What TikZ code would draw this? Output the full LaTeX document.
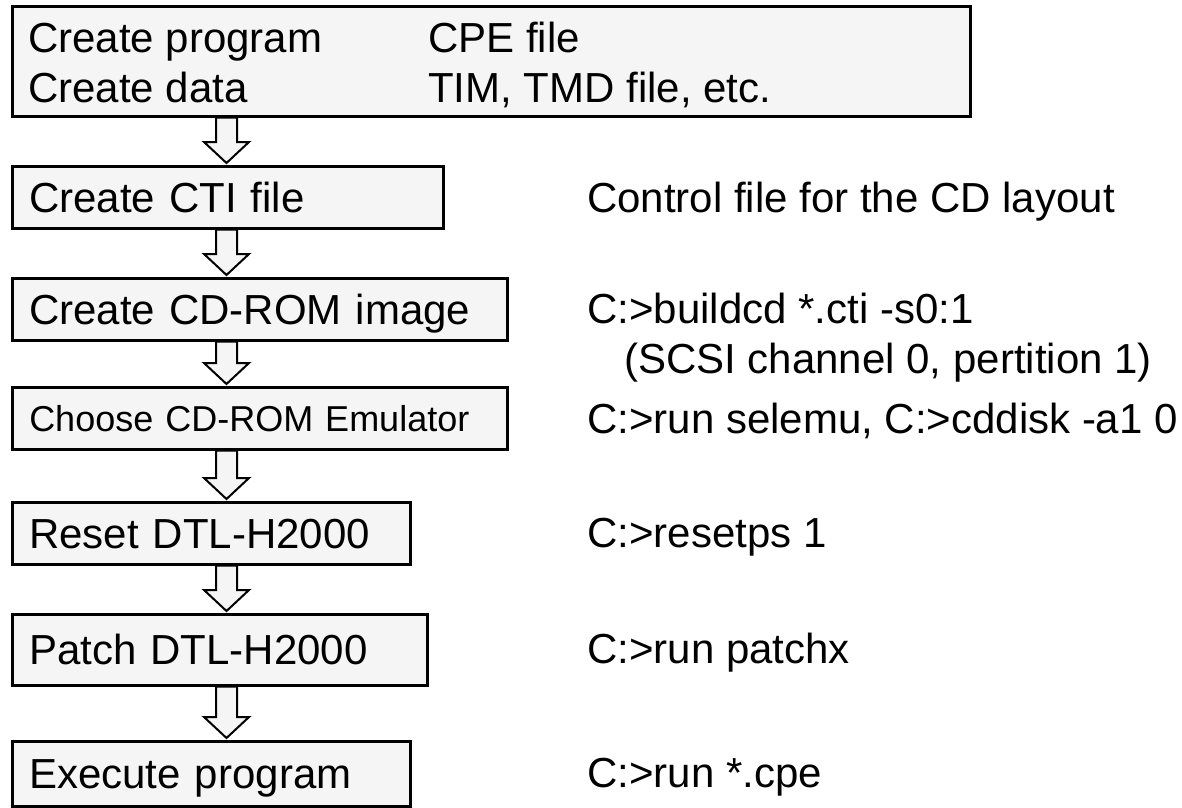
\documentclass[tikz,border=0pt]{standalone}
\usepackage{fontspec}
\setmainfont{Liberation Sans}
\usetikzlibrary{calc}
\definecolor{boxfill}{HTML}{F5F5F5}
\newcommand\bigtxt{\fontsize{42}{50}\selectfont}
\newcommand\smalltxt{\fontsize{36}{43}\selectfont}
\tikzset{
  box/.style={draw=black, line width=2.5pt, fill=boxfill, anchor=north west,
    inner xsep=17pt, inner ysep=0pt, text height=30pt, text depth=0pt,
    align=left, font=\bigtxt},
  note/.style={anchor=base west, inner sep=0pt, font=\bigtxt},
  barrow/.style={draw=black, line width=2pt, fill=boxfill, line join=miter},
}
\newcommand\flowarrow[2]{%
  \draw[barrow] let \p1=(#1.south), \p2=(#2.north) in
    (216pt,\y1) -- (237pt,\y1) -- (237pt,\y2+23pt) -- (249pt,\y2+23pt)
    -- (226.5pt,\y2+2pt) -- (204pt,\y2+23pt) -- (216pt,\y2+23pt) -- cycle;}
\begin{document}
\begin{tikzpicture}[x=1pt,y=-1pt]
\useasboundingbox (0,0) rectangle (1182,807);
% boxes
\node[box, minimum width=958pt, minimum height=110pt, text width=0pt] (b1) at (11,5) {};
\node[note] (t1a) at (28,52) {Create program};
\node[note] (t1b) at (428,52) {CPE file};
\node[note] (t1c) at (28,102) {Create data};
\node[note] (t1d) at (428,102) {TIM, TMD file, etc.};
\node[box, text width=397pt, minimum height=62pt] (b2) at (11,165) {Create CTI file};
\node[box, text width=461pt, minimum height=62pt] (b3) at (11,277) {Create CD-ROM image};
\node[box, text width=461pt, minimum height=62pt, font=\smalltxt, text height=26pt] (b4) at (11,386) {Choose CD-ROM Emulator};
\node[box, text width=364pt, minimum height=62pt] (b5) at (11,501) {Reset DTL-H2000};
\node[box, text width=381pt, minimum height=71pt] (b6) at (11,613) {Patch DTL-H2000};
\node[box, text width=364pt, minimum height=65pt] (b7) at (11,740) {Execute program};
% arrows
\flowarrow{b1}{b2}
\flowarrow{b2}{b3}
\flowarrow{b3}{b4}
\flowarrow{b4}{b5}
\flowarrow{b5}{b6}
\flowarrow{b6}{b7}
% notes
\node[note] (n2) at (587,212) {Control file for the CD layout};
\node[note] (n3) at (587,323) {C:>buildcd *.cti -s0:1};
\node[note] (n3b) at (624,373) {(SCSI channel 0, pertition 1)};
\node[note] (n4) at (587,433) {C:>run selemu, C:>cddisk -a1 0};
\node[note] (n5) at (587,547) {C:>resetps 1};
\node[note] (n6) at (587,663) {C:>run patchx};
\node[note] (n7) at (587,787) {C:>run *.cpe};
\end{tikzpicture}
\end{document}
